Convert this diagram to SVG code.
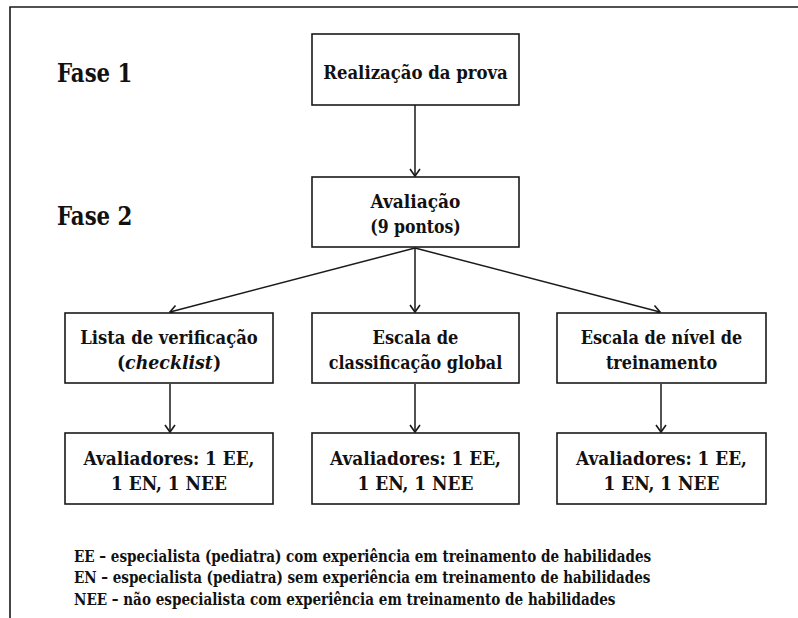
<svg xmlns="http://www.w3.org/2000/svg" width="798" height="618" viewBox="0 0 798 618">
<style>
text{font-family:'DejaVu Serif Condensed','DejaVu Serif',serif;font-stretch:condensed;font-weight:bold;fill:#111}
.box{fill:#fff;stroke:#1a1a1a;stroke-width:1.6}
.t{font-size:19.3px;text-anchor:middle}
.phase{font-size:25.4px}
.leg{font-size:16.2px}
.c{stroke:#1a1a1a;stroke-width:1.5;fill:none;marker-end:url(#ah)}
</style>
<defs>
<marker id="ah" markerUnits="userSpaceOnUse" markerWidth="14" markerHeight="14" refX="8" refY="6" orient="auto">
<path d="M1,1 L8,6 L1,11" fill="none" stroke="#1a1a1a" stroke-width="1.6"/>
</marker>
</defs>
<rect width="798" height="618" fill="#fff"/>
<path d="M10,620 L10,7 L800,7" fill="none" stroke="#1a1a1a" stroke-width="1.6"/>
<text class="phase" x="57" y="82" textLength="75.4" lengthAdjust="spacingAndGlyphs">Fase 1</text>
<text class="phase" x="57" y="225" textLength="75.4" lengthAdjust="spacingAndGlyphs">Fase 2</text>
<g id="connectors">
<line class="c" x1="415" y1="105" x2="415" y2="176"/>
<line class="c" x1="415" y1="248" x2="170" y2="312"/>
<line class="c" x1="415" y1="248" x2="415" y2="312"/>
<line class="c" x1="415" y1="248" x2="660" y2="312"/>
<line class="c" x1="170" y1="384" x2="170" y2="432"/>
<line class="c" x1="415" y1="384" x2="415" y2="432"/>
<line class="c" x1="661" y1="384" x2="661" y2="432"/>
</g>
<g id="realizacao">
<rect class="box" x="312" y="34" width="207" height="71"/>
<text class="t" x="415.5" y="79" textLength="184.6" lengthAdjust="spacingAndGlyphs">Realização da prova</text>
</g>
<g id="avaliacao">
<rect class="box" x="312" y="177" width="207" height="70"/>
<text class="t" x="415.5" y="208" textLength="89.9" lengthAdjust="spacingAndGlyphs">Avaliação</text>
<text class="t" x="415.5" y="233" textLength="90.5" lengthAdjust="spacingAndGlyphs">(9 pontos)</text>
</g>
<g id="lista">
<rect class="box" x="65" y="313" width="208" height="70"/>
<text class="t" x="169" y="344" textLength="177.5" lengthAdjust="spacingAndGlyphs">Lista de verificação</text>
<text class="t" x="169" y="369">(<tspan font-style="italic">checklist</tspan>)</text>
</g>
<g id="escala-global">
<rect class="box" x="312" y="313" width="207" height="70"/>
<text class="t" x="415.5" y="344" textLength="85.8" lengthAdjust="spacingAndGlyphs">Escala de</text>
<text class="t" x="415.5" y="369" textLength="173.4" lengthAdjust="spacingAndGlyphs">classificação global</text>
</g>
<g id="escala-nivel">
<rect class="box" x="557" y="313" width="209" height="70"/>
<text class="t" x="661.5" y="344" textLength="161.5" lengthAdjust="spacingAndGlyphs">Escala de nível de</text>
<text class="t" x="661.5" y="369" textLength="111.2" lengthAdjust="spacingAndGlyphs">treinamento</text>
</g>
<g id="aval1">
<rect class="box" x="65" y="433" width="208" height="71"/>
<text class="t" x="169" y="465" textLength="171" lengthAdjust="spacingAndGlyphs">Avaliadores: 1 EE,</text>
<text class="t" x="169" y="490" textLength="116" lengthAdjust="spacingAndGlyphs">1 EN, 1 NEE</text>
</g>
<g id="aval2">
<rect class="box" x="312" y="433" width="207" height="71"/>
<text class="t" x="415.5" y="465" textLength="171" lengthAdjust="spacingAndGlyphs">Avaliadores: 1 EE,</text>
<text class="t" x="415.5" y="490" textLength="116" lengthAdjust="spacingAndGlyphs">1 EN, 1 NEE</text>
</g>
<g id="aval3">
<rect class="box" x="557" y="433" width="209" height="71"/>
<text class="t" x="661.5" y="465" textLength="171" lengthAdjust="spacingAndGlyphs">Avaliadores: 1 EE,</text>
<text class="t" x="661.5" y="490" textLength="116" lengthAdjust="spacingAndGlyphs">1 EN, 1 NEE</text>
</g>
<g id="legend">
<text class="leg" x="74" y="562" textLength="577.2" lengthAdjust="spacingAndGlyphs">EE – especialista (pediatra) com experiência em treinamento de habilidades</text>
<text class="leg" x="74" y="583" textLength="576.4" lengthAdjust="spacingAndGlyphs">EN – especialista (pediatra) sem experiência em treinamento de habilidades</text>
<text class="leg" x="74" y="605" textLength="541.5" lengthAdjust="spacingAndGlyphs">NEE – não especialista com experiência em treinamento de habilidades</text>
</g>
</svg>
